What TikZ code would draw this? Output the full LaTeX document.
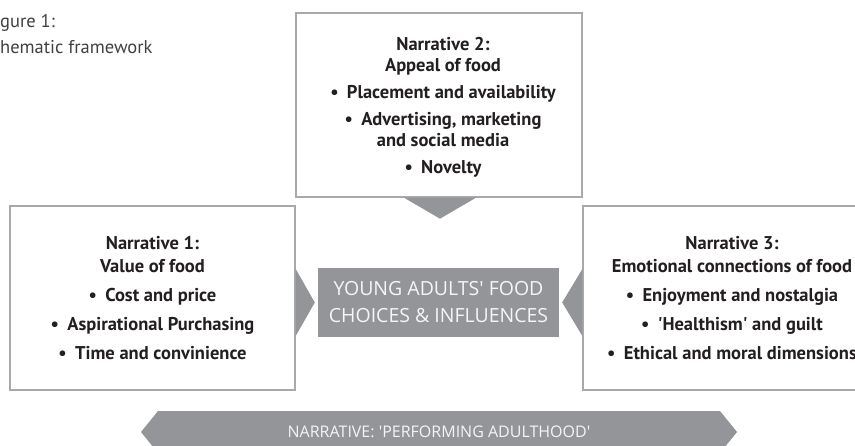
\documentclass[tikz,border=0pt]{standalone}
\usepackage{fontspec}
\setmainfont{PT Sans}
\newfontfamily\capsfont{Open Sans}
\usetikzlibrary{calc}
\newcommand\mybul{\textbullet\hspace{0.45em}}
\newcommand\myq{\textquotesingle}
\definecolor{boxline}{HTML}{A7A9AC}
\definecolor{darkfill}{HTML}{939598}
\definecolor{bodytext}{HTML}{231F20}
\definecolor{titletext}{HTML}{404040}
\definecolor{lighttext}{HTML}{F5F5F5}
\tikzset{
  narrbox/.style={draw=boxline, line width=1.4pt, fill=white, inner sep=0pt, minimum height=184pt},
  narrtext/.style={text=bodytext, font=\bfseries\fontsize{18.5}{23}\selectfont, align=center, inner sep=0pt},
  corebox/.style={fill=darkfill, minimum width=241pt, minimum height=69pt, inner sep=0pt, text=lighttext, align=center, font=\capsfont\fontsize{19.5}{27}\selectfont},
  pointer/.style={fill=darkfill, draw=none},
  titlestyle/.style={text=titletext, font=\fontsize{18.5}{22}\selectfont, inner sep=0pt, anchor=base west}
}
\begin{document}
\begin{tikzpicture}[x=1pt,y=-1pt]
\useasboundingbox (0,0) rectangle (855,445);
% title (cut at the left edge, as in the reference)
\node[titlestyle] (title1) at (0,27) {\llap{Fi}gure 1:};
\node[titlestyle] (title2) at (0,53) {\llap{Sc}hematic framework};
% boxes
\node[narrbox, minimum width=286pt] (box2) at (439,105) {};
\node[narrbox, minimum width=285pt] (box1) at (152.5,298) {};
\node[narrbox, minimum width=304pt] (box3) at (735,298) {};
\node[corebox] (core) at (438.5,302.5) {YOUNG ADULTS\myq{} FOOD\\CHOICES \& INFLUENCES};
% texts
\node[narrtext, font=\bfseries\fontsize{18.5}{21}\selectfont] (t2) at ($(box2.center)+(4,2)$) {Narrative 2:\\Appeal of food\\[6pt]\mybul Placement and availability\\[6pt]\mybul Advertising, marketing\\and social media\\[6pt]\mybul Novelty};
\node[narrtext] (t1) at (box1.center) {Narrative 1:\\Value of food\\[6pt]\mybul Cost and price\\[6pt]\mybul Aspirational Purchasing\\[6pt]\mybul Time and convinience};
\node[narrtext] (t3) at ($(box3.center)+(-3,0)$) {Narrative 3:\\Emotional connections of food\\[6pt]\mybul Enjoyment and nostalgia\\[6pt]\mybul \myq{}Healthism\myq{} and guilt\\[6pt]\mybul Ethical and moral dimensions};
% pointers
\fill[pointer] ($(box2.south)+(-35,0)$) -- ($(box2.south)+(37,0)$) -- ($(box2.south)+(1,21)$) -- cycle;
\coordinate (lp) at ($(core.west)+(-3,0)$);
\coordinate (rp) at ($(core.east)+(3,0)$);
\fill[pointer] (box1.east |- lp) ++(0,-33.5) -- (lp) -- ($(box1.east |- lp)+(0,33.5)$) -- cycle;
\fill[pointer] (box3.west |- rp) ++(0,-33.5) -- (rp) -- ($(box3.west |- rp)+(0,33.5)$) -- cycle;
% banner
\fill[pointer] (158,411) -- (720,411) -- (737,432) -- (720,453) -- (158,453) -- (141,432) -- cycle;
\node[text=lighttext, font=\capsfont\fontsize{16}{18}\selectfont, inner sep=0pt] (banner) at (439,431.5) {NARRATIVE: \myq{}PERFORMING ADULTHOOD\myq};
\end{tikzpicture}
\end{document}
